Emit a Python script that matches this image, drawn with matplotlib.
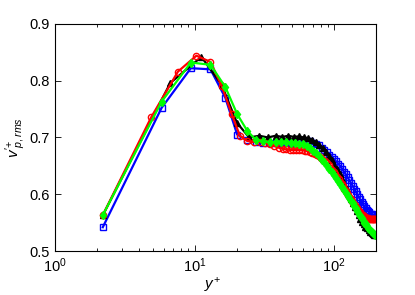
import numpy as np
import matplotlib
matplotlib.use("Agg")
import matplotlib.pyplot as plt
from matplotlib.ticker import LogLocator, NullFormatter, FixedLocator

plt.rcParams['font.family'] = ['Liberation Sans', 'DejaVu Sans']
plt.rcParams['mathtext.fontset'] = 'custom'
plt.rcParams['mathtext.rm'] = 'Liberation Sans'
plt.rcParams['mathtext.it'] = 'Liberation Sans:italic'

# blue squares
yp_blue = [2.2, 5.8, 9.4, 13.0, 16.6, 20.2, 23.8, 27.4, 31.0, 34.6, 38.2, 41.8,
           45.4, 49.0, 52.6, 56.2, 59.8, 63.4, 67.0, 70.6, 74.2, 77.8, 81.4, 85.0,
           88.6, 92.2, 95.8, 99.4, 103.0, 106.6, 110.2, 113.8, 117.4, 121.0, 124.6,
           128.2, 131.8, 135.4, 139.0, 142.6, 146.2, 149.8, 153.4, 157.0, 160.6,
           164.2, 167.8, 171.4, 175.0, 178.6, 182.2, 185.8, 189.4, 193.0, 196.6]
v_blue = [0.542, 0.752, 0.822, 0.820, 0.770, 0.705, 0.695, 0.692, 0.691, 0.691, 0.691, 0.691,
          0.691, 0.691, 0.692, 0.692, 0.692, 0.693, 0.693, 0.691, 0.689, 0.686, 0.682, 0.678,
          0.674, 0.670, 0.666, 0.662, 0.658, 0.654, 0.650, 0.645, 0.640, 0.635, 0.630,
          0.625, 0.620, 0.615, 0.610, 0.605, 0.600, 0.595, 0.591, 0.587, 0.583,
          0.579, 0.576, 0.573, 0.570, 0.568, 0.566, 0.565, 0.564, 0.563, 0.563]

# black triangles
yp_black = [2.2, 6.7, 11.2, 15.6, 20.1, 24.6, 29.1, 33.5, 38.0, 42.5, 46.9, 51.4,
            55.9, 60.3, 64.8, 69.3, 73.7, 78.2, 82.7, 87.1, 91.6, 96.1, 100.5, 105.0,
            109.5, 113.9, 118.4, 122.9, 127.3, 131.8, 136.3, 140.7, 145.2, 149.7,
            154.1, 158.6, 163.1, 167.5, 172.0, 176.5, 180.9, 185.4, 189.9, 194.3, 198.8]
v_black = [0.563, 0.796, 0.842, 0.793, 0.726, 0.700, 0.703, 0.700, 0.703, 0.701, 0.703, 0.701,
           0.702, 0.700, 0.699, 0.696, 0.692, 0.687, 0.681, 0.675, 0.668, 0.660, 0.652, 0.644,
           0.636, 0.627, 0.618, 0.609, 0.601, 0.592, 0.584, 0.577, 0.570, 0.563,
           0.557, 0.552, 0.547, 0.543, 0.540, 0.537, 0.534, 0.532, 0.530, 0.529, 0.528]

# red circles
yp_red = [2.2, 4.9, 7.6, 10.3, 13.0, 15.7, 18.4, 21.1, 23.8, 26.5, 29.2, 31.9, 34.6,
          37.3, 40.0, 42.7, 45.4, 48.1, 50.8, 53.5, 56.2, 58.9, 61.6, 64.3, 67.0,
          69.7, 72.4, 75.1, 77.8, 80.5, 83.2, 85.9, 88.6, 91.3, 94.0, 96.7, 99.4,
          102.1, 104.8, 107.5, 110.2, 112.9, 115.6, 118.3, 121.0, 123.7, 126.4,
          129.1, 131.8, 134.5, 137.2, 139.9, 142.6, 145.3, 148.0, 150.7, 153.4,
          156.1, 158.8, 161.5, 164.2, 166.9, 169.6, 172.3, 175.0, 177.7, 180.4,
          183.1, 185.8, 188.5, 191.2, 193.9, 196.6, 199.3]
v_red = [0.563, 0.736, 0.816, 0.844, 0.833, 0.790, 0.742, 0.703, 0.694, 0.692, 0.692, 0.690, 0.688,
         0.685, 0.682, 0.680, 0.679, 0.678, 0.678, 0.678, 0.678, 0.678, 0.677, 0.676, 0.675,
         0.673, 0.671, 0.669, 0.667, 0.664, 0.661, 0.658, 0.655, 0.651, 0.647, 0.643, 0.639,
         0.635, 0.631, 0.627, 0.622, 0.618, 0.614, 0.610, 0.606, 0.602, 0.598,
         0.594, 0.591, 0.588, 0.584, 0.581, 0.578, 0.575, 0.573, 0.570, 0.568,
         0.566, 0.564, 0.563, 0.561, 0.560, 0.559, 0.558, 0.558, 0.557, 0.557,
         0.557, 0.557, 0.557, 0.557, 0.557, 0.557, 0.557]

# green diamonds
yp_green = yp_blue
v_green = [0.563, 0.763, 0.832, 0.828, 0.789, 0.741, 0.712, 0.696, 0.693, 0.692, 0.692, 0.692,
           0.692, 0.691, 0.690, 0.689, 0.688, 0.685, 0.681, 0.677, 0.672, 0.667, 0.661, 0.656,
           0.650, 0.645, 0.639, 0.634, 0.628, 0.623, 0.618, 0.613, 0.607, 0.602, 0.597,
           0.593, 0.589, 0.584, 0.579, 0.575, 0.570, 0.566, 0.562, 0.558, 0.554,
           0.550, 0.547, 0.544, 0.541, 0.538, 0.536, 0.534, 0.532, 0.530, 0.528]

fig = plt.figure(figsize=(4.15, 2.95), dpi=100)
ax = fig.add_axes([0.1325, 0.149, 0.774, 0.770])

ax.plot(yp_blue, v_blue, '-s', color='#0000ff', lw=1.6, ms=4, mfc='none', mew=1.0)
ax.plot(yp_black, v_black, '-^', color='black', lw=1.6, ms=4.5, mfc='black', mew=1.0)
ax.plot(yp_red, v_red, '-o', color='#ff0000', lw=1.6, ms=4.5, mfc='none', mew=1.0)
ax.plot(yp_green, v_green, '-d', color='#00ff00', lw=1.6, ms=4.5, mfc='#00ff00', mew=1.0)

ax.set_xscale('log')
ax.set_xlim(1, 200)
ax.set_ylim(0.5, 0.9)
ax.yaxis.set_major_locator(FixedLocator([0.5, 0.6, 0.7, 0.8, 0.9]))
ax.set_yticklabels(['0.5', '0.6', '0.7', '0.8', '0.9'])
ax.xaxis.set_major_locator(LogLocator(base=10))
ax.xaxis.set_minor_locator(LogLocator(base=10, subs=np.arange(2, 10)))
ax.xaxis.set_minor_formatter(NullFormatter())

ax.tick_params(which='both', direction='in', top=True, right=True, labelsize=10.5)
ax.tick_params(which='major', length=4, width=0.6)
ax.tick_params(which='minor', length=2, width=0.6)
for s in ax.spines.values():
    s.set_linewidth(0.8)

ax.set_xlabel(r'$y^{+}$', fontsize=11)
ax.set_ylabel(r"$v'^{+}_{p,rms}$", fontsize=11)
ax.xaxis.set_label_coords(0.49, -0.11)
ax.yaxis.set_label_coords(-0.085, 0.5)

fig.savefig('out.png', dpi=100)
